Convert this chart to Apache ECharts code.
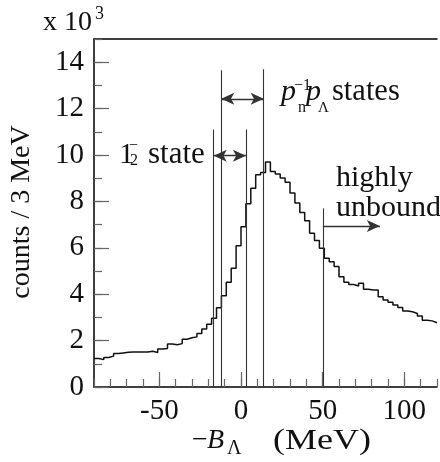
<!DOCTYPE html>
<html>
<head>
<meta charset="utf-8">
<script src="https://cdn.jsdelivr.net/npm/echarts@6/dist/echarts.min.js"></script>
<style>
html,body{margin:0;padding:0;background:#fff;}
#c{width:440px;height:462px;}
</style>
</head>
<body>
<div id="c"></div>
<script>
// ---- data (counts per 3 MeV bin, in units of 10^3) ----
const binStart = -90;      // MeV, left edge of the first bin
const binWidth = 3;        // MeV
const counts = [
  1.23,1.18,1.27,1.33,1.44,1.47,1.50,1.51,1.51,1.51,1.51,1.54,1.49,1.64,1.66,1.85,1.82,1.87,2.06,2.12,2.16,2.31,2.50,
  2.70,2.96,3.42,3.93,4.51,5.12,6.09,6.91,7.90,8.57,
  9.15,9.25,9.70,9.29,9.18,9.01,8.83,8.36,7.93,7.52,7.17,6.63,6.31,
  5.98,5.55,5.40,5.19,4.75,4.51,4.42,4.35,4.47,4.21,4.18,4.18,3.89,3.75,3.65,3.53,3.43,3.28,3.24,3.17,3.06,2.88,2.85,2.77
];
// vertical marker lines: x position (MeV) and top (10^3 counts)
const markerX   = [-16.7, -12.1, 3.0, 13.9, 50.1];
const markerTop = [11.1, 13.65, 11.1, 13.7, 7.7];
// arrows: [x1, x2, y]
const arrowDoubleA = [-12.1, 13.9, 12.42];
const arrowDoubleB = [-16.7, 3.0, 9.97];
const arrowRight   = [50.1, 85.0, 6.94];
const xLabelValues = [-50, 0, 50, 100];
const yLabelValues = [0, 2, 4, 6, 8, 10, 12, 14];

// ---- build ----
const histData = counts.map((v, i) => [binStart + i * binWidth, v]);
histData.push([binStart + counts.length * binWidth, counts[counts.length - 1]]);

const FONT = '"Liberation Serif", "Times New Roman", serif';
const chart = echarts.init(document.getElementById('c'), null, {renderer: 'canvas'});

const vlines = markerX.map((x, i) => [{coord: [x, 0]}, {coord: [x, markerTop[i]]}]);
function arrow(a, both) {
  return [{coord: [a[0], a[2]], symbol: both ? 'arrow' : 'none'}, {coord: [a[1], a[2]], symbol: 'arrow'}];
}

function txt(x, y, s, size, opts) {
  opts = opts || {};
  return {
    type: 'text', x: x, y: y, silent: true,
    scaleX: opts.scaleX || 1,
    style: {
      text: s, fill: '#111',
      font: (opts.italic ? 'italic ' : '') + size + 'px ' + FONT,
      textAlign: opts.align || 'left', textVerticalAlign: opts.valign || 'middle'
    },
    rotation: opts.rotation || 0
  };
}

const option = {
  animation: false,
  backgroundColor: '#fff',
  grid: {left: 94, top: 39, right: -2, bottom: 75},
  xAxis: [
    { type: 'value', min: -90, max: 120, interval: 10,
      axisLine: {show: true, onZero: false, lineStyle: {color: '#000', width: 1.5}},
      axisTick: {show: true, inside: true, length: 8, lineStyle: {color: '#666', width: 1.2}},
      axisLabel: {show: true, margin: 10, color: '#111', fontSize: 29, fontFamily: FONT,
        formatter: v => (xLabelValues.indexOf(v) >= 0 ? String(v) : '')},
      splitLine: {show: false}
    },
    { type: 'value', min: -90, max: 120, position: 'bottom',
      axisLine: {show: false, onZero: false},
      axisTick: {show: true, inside: true, length: 15, customValues: xLabelValues, lineStyle: {color: '#666', width: 1.2}},
      axisLabel: {show: false}, splitLine: {show: false}
    },
    { type: 'value', min: -90, max: 120, position: 'top',
      axisLine: {show: true, onZero: false, lineStyle: {color: '#000', width: 1.5}},
      axisTick: {show: false}, axisLabel: {show: false}, splitLine: {show: false}
    }
  ],
  yAxis: [
    { type: 'value', min: 0, max: 15, interval: 1,
      axisLine: {show: true, onZero: false, lineStyle: {color: '#000', width: 1.5}},
      axisTick: {show: true, inside: true, length: 8, lineStyle: {color: '#666', width: 1.2}},
      axisLabel: {show: true, margin: 10, color: '#111', fontSize: 29, fontFamily: FONT,
        formatter: v => (yLabelValues.indexOf(v) >= 0 ? String(v) : '')},
      splitLine: {show: false}
    },
    { type: 'value', min: 0, max: 15, position: 'left',
      axisLine: {show: false, onZero: false},
      axisTick: {show: true, inside: true, length: 15, customValues: yLabelValues, lineStyle: {color: '#666', width: 1.2}},
      axisLabel: {show: false}, splitLine: {show: false}
    }
  ],
  series: [
    { type: 'line', xAxisIndex: 0, yAxisIndex: 0, step: 'end', data: histData,
      showSymbol: false, symbol: 'none', clip: false,
      lineStyle: {color: '#111', width: 1.5},
      markLine: {
        silent: true, symbol: 'none', animation: false,
        label: {show: false},
        lineStyle: {color: '#333', width: 1.1, type: 'solid'},
        data: vlines
      }
    },
    { type: 'line', xAxisIndex: 0, yAxisIndex: 0, data: [],
      markLine: {
        silent: true, animation: false, symbolSize: [9, 13],
        label: {show: false},
        lineStyle: {color: '#333', width: 1.3, type: 'solid'},
        itemStyle: {color: '#111'},
        data: [arrow(arrowDoubleA, true), arrow(arrowDoubleB, true), arrow(arrowRight, false)]
      }
    }
  ],
  graphic: [
    // x 10^3
    txt(43, 23, 'x 10', 28),
    txt(95, 14, '3', 18),
    // y axis name
    txt(22, 212, 'counts / 3 MeV', 28, {align: 'center', rotation: Math.PI / 2}),
    // x axis name
    txt(192, 441, '\u2212', 28),
    txt(207, 441, 'B', 28, {italic: true}),
    txt(227, 449, '\u039B', 20),
    txt(273, 441, '(MeV)', 30, {scaleX: 1.2}),
    // 1_2^- state
    txt(119, 155, '1', 30),
    txt(129, 146, '\u2212', 16),
    txt(130, 161, '2', 16),
    txt(148, 155, 'state', 31),
    // p_n^-1 p_Lambda states
    txt(281, 92, 'p', 30, {italic: true}),
    txt(294, 86, '\u22121', 16),
    txt(298, 108, 'n', 16),
    txt(306, 92, 'p', 30, {italic: true}),
    txt(318, 108, '\u039B', 15),
    txt(332, 92, 'states', 30.5),
    // highly unbound
    txt(336, 178, 'highly', 30),
    txt(336, 208, 'unbound', 30)
  ]
};
chart.setOption(option);
</script>
</body>
</html>
